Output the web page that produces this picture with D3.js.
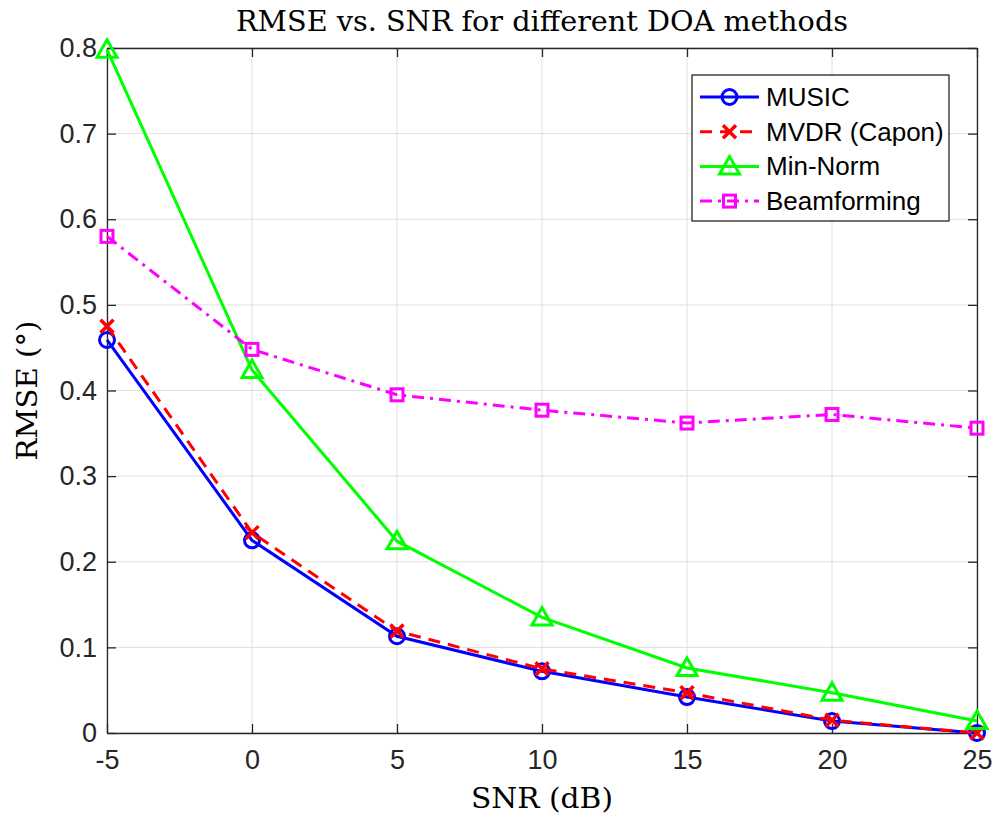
<!DOCTYPE html>
<html lang="en">
<head>
    <meta charset="UTF-8">
    <title>RMSE vs. SNR</title>
    <style>
        body { margin: 0; background: #ffffff; }
        .tick text { font-family: "Liberation Sans", Arial, sans-serif; font-size: 27px; fill: #262626; }
        .legend text { font-family: "Liberation Sans", Arial, sans-serif; font-size: 26px; fill: #000; }
        .serif { font-family: "DejaVu Serif", "Liberation Serif", serif; fill: #000; }
    </style>
</head>
<body>
    <div id="chart"></div>
    <script src="https://d3js.org/d3.v7.min.js"></script>
    <script>
        const width = 994;
        const height = 818;
        const margin = {top: 48, right: 17, bottom: 85, left: 107};

        // data
        const snr = [-5, 0, 5, 10, 15, 20, 25];
        const music = [0.459, 0.225, 0.113, 0.072, 0.042, 0.014, 0.0];
        const mvdr = [0.475, 0.234, 0.119, 0.075, 0.047, 0.015, 0.0];
        const minNorm = [0.798, 0.424, 0.224, 0.135, 0.076, 0.047, 0.014];
        const beamforming = [0.580, 0.448, 0.395, 0.377, 0.362, 0.372, 0.356];
        const xTicks = [-5, 0, 5, 10, 15, 20, 25];
        const yTicks = [0, 0.1, 0.2, 0.3, 0.4, 0.5, 0.6, 0.7, 0.8];

        const series = [
            {name: "MUSIC", values: music, color: "#0000ff", dash: null, marker: "circle"},
            {name: "MVDR (Capon)", values: mvdr, color: "#ff0000", dash: "12,8", marker: "cross"},
            {name: "Min-Norm", values: minNorm, color: "#00ff00", dash: null, marker: "triangle"},
            {name: "Beamforming", values: beamforming, color: "#ff00ff", dash: "12,6,3,6", marker: "square"}
        ];

        const svg = d3.select("#chart").append("svg")
            .attr("width", width)
            .attr("height", height);

        const x = d3.scaleLinear().domain([-5, 25]).range([margin.left, width - margin.right]);
        const y = d3.scaleLinear().domain([0, 0.8]).range([height - margin.bottom, margin.top]);

        const plotLeft = x.range()[0], plotRight = x.range()[1];
        const plotTop = y.range()[1], plotBottom = y.range()[0];

        // grid
        const grid = svg.append("g");
        grid.selectAll(".gx").data(xTicks).enter().append("line")
            .attr("x1", d => x(d)).attr("x2", d => x(d))
            .attr("y1", plotTop).attr("y2", plotBottom)
            .attr("stroke", "#dfdfdf").attr("stroke-width", 1);
        grid.selectAll(".gy").data(yTicks).enter().append("line")
            .attr("x1", plotLeft).attr("x2", plotRight)
            .attr("y1", d => y(d)).attr("y2", d => y(d))
            .attr("stroke", "#dfdfdf").attr("stroke-width", 1);

        // axes, ticks pointing inward
        svg.append("g")
            .attr("transform", `translate(0,${plotBottom})`)
            .call(d3.axisBottom(x).tickValues(xTicks).tickSize(-9).tickSizeOuter(0).tickPadding(17).tickFormat(d => String(d)));
        svg.append("g")
            .attr("transform", `translate(${plotLeft},0)`)
            .call(d3.axisLeft(y).tickValues(yTicks).tickSize(-9).tickSizeOuter(0).tickPadding(10).tickFormat(d => d === 0 ? "0" : d3.format(".1f")(d)));
        svg.append("g")
            .attr("transform", `translate(0,${plotTop})`)
            .call(d3.axisTop(x).tickValues(xTicks).tickSize(-9).tickSizeOuter(0).tickFormat(""));
        svg.append("g")
            .attr("transform", `translate(${plotRight},0)`)
            .call(d3.axisRight(y).tickValues(yTicks).tickSize(-9).tickSizeOuter(0).tickFormat(""));
        svg.selectAll(".domain, .tick line").attr("stroke", "#262626").attr("stroke-width", 1.3);

        // lines + markers
        const lineGen = d3.line().x((d, i) => x(snr[i])).y(d => y(d));

        function drawMarker(g, type, cx, cy, color) {
            if (type === "circle") {
                g.append("circle").attr("cx", cx).attr("cy", cy).attr("r", 7.5)
                    .attr("fill", "none").attr("stroke", color).attr("stroke-width", 3);
            } else if (type === "cross") {
                const s = 6.5;
                g.append("path")
                    .attr("d", `M${cx - s},${cy - s}L${cx + s},${cy + s}M${cx - s},${cy + s}L${cx + s},${cy - s}`)
                    .attr("stroke", color).attr("stroke-width", 3.5).attr("fill", "none");
            } else if (type === "triangle") {
                const s = 10;
                g.append("path")
                    .attr("d", `M${cx},${cy - s}L${cx + s},${cy + s * 0.75}L${cx - s},${cy + s * 0.75}Z`)
                    .attr("stroke", color).attr("stroke-width", 3).attr("fill", "none");
            } else if (type === "square") {
                const s = 6;
                g.append("rect").attr("x", cx - s).attr("y", cy - s).attr("width", 2 * s).attr("height", 2 * s)
                    .attr("stroke", color).attr("stroke-width", 3).attr("fill", "none");
            }
        }

        const plot = svg.append("g");
        series.forEach(s => {
            plot.append("path")
                .datum(s.values)
                .attr("d", lineGen)
                .attr("fill", "none")
                .attr("stroke", s.color)
                .attr("stroke-width", 3)
                .attr("stroke-dasharray", s.dash);
            const mg = plot.append("g");
            s.values.forEach((v, i) => drawMarker(mg, s.marker, x(snr[i]), y(v), s.color));
        });

        // legend
        const legend = svg.append("g").attr("class", "legend");
        legend.append("rect")
            .attr("x", 692).attr("y", 75).attr("width", 257).attr("height", 146)
            .attr("fill", "#fff").attr("stroke", "#262626").attr("stroke-width", 1.3);
        series.forEach((s, i) => {
            const ly = 97 + i * 34.7;
            legend.append("line")
                .attr("x1", 700).attr("x2", 759).attr("y1", ly).attr("y2", ly)
                .attr("stroke", s.color).attr("stroke-width", 3)
                .attr("stroke-dasharray", s.dash);
            drawMarker(legend, s.marker, 729.5, ly, s.color);
            legend.append("text")
                .attr("x", 766).attr("y", ly + 9)
                .text(s.name);
        });

        // title and labels (LaTeX-style serif)
        svg.append("text").attr("class", "serif")
            .attr("x", (plotLeft + plotRight) / 2).attr("y", 31)
            .attr("text-anchor", "middle")
            .attr("textLength", 612).attr("lengthAdjust", "spacingAndGlyphs")
            .style("font-size", "27px")
            .text("RMSE vs. SNR for different DOA methods");
        svg.append("text").attr("class", "serif")
            .attr("x", (plotLeft + plotRight) / 2).attr("y", 808)
            .attr("text-anchor", "middle")
            .attr("textLength", 142).attr("lengthAdjust", "spacingAndGlyphs")
            .style("font-size", "27px")
            .text("SNR (dB)");
        svg.append("text").attr("class", "serif")
            .attr("transform", `translate(37,${(plotTop + plotBottom) / 2}) rotate(-90)`)
            .attr("text-anchor", "middle")
            .attr("textLength", 140).attr("lengthAdjust", "spacingAndGlyphs")
            .style("font-size", "27px")
            .text("RMSE (°)");
    </script>
</body>
</html>
